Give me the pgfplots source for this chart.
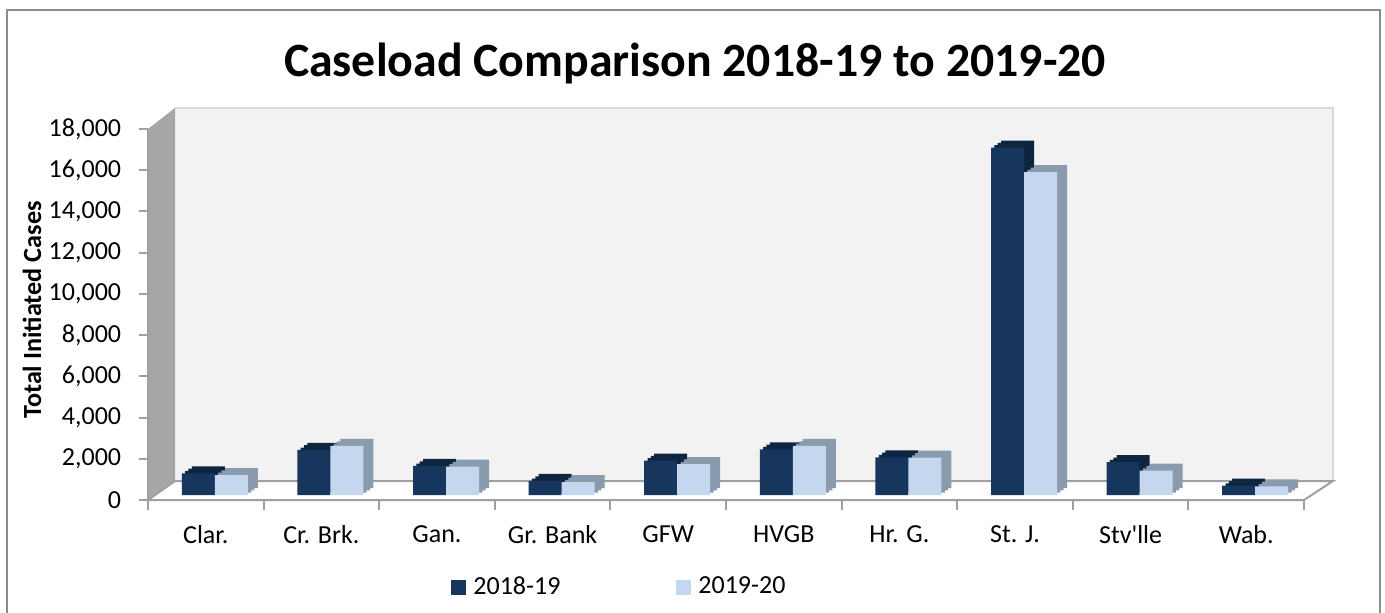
\documentclass[border=0pt]{standalone}
\usepackage{fontspec}
\setmainfont{Carlito}
\usepackage{pgfplots}
\pgfplotsset{compat=1.18}
\usepackage{pgfplotstable}
\definecolor{darkf}{HTML}{17365D}
\definecolor{darks}{HTML}{0F243E}
\definecolor{lightf}{HTML}{C4D7EE}
\definecolor{lights}{HTML}{8A9BAE}
\definecolor{wallc}{HTML}{F2F2F2}
\definecolor{sidewall}{HTML}{A6A6A6}
\definecolor{linec}{HTML}{A0A0A0}
\definecolor{framec}{HTML}{8C8C8C}
\pgfplotstableread{
x a b
0 1050 970
1 2190 2380
2 1410 1380
3 680 620
4 1670 1500
5 2220 2380
6 1830 1810
7 16860 15660
8 1590 1180
9 450 420
}\datatable
\begin{document}
\begin{tikzpicture}
\begin{axis}[
  at={(0,0)}, anchor=south west, scale only axis,
  width=578pt, height=185.5pt,
  xmin=-0.5, xmax=9.5, ymin=0, ymax=18000, clip=false,
  set layers,
  axis y line*=left, axis x line*=bottom,
  axis line style={linec, line width=1pt, -},
  tick align=outside, major tick length=4.75pt,
  tick style={linec, line width=1pt},
  tick label style={font=\fontsize{13}{15}\selectfont},
  scaled y ticks=false,
  ytick={0,2000,...,18000},
  yticklabels={0,{2,000},{4,000},{6,000},{8,000},{10,000},{12,000},{14,000},{16,000},{18,000}},
  yticklabel style={anchor=east, inner sep=0pt, xshift=-8.5pt},
  xtick={-0.5,0.5,...,9.5}, xticklabels={},
  extra x ticks={0,1,...,9},
  extra x tick labels={Clar.,Cr. Brk.,Gan.,Gr. Bank,GFW,HVGB,Hr. G.,St. J.,Stv\textquotesingle lle,Wab.},
  extra x tick style={major tick length=0pt, xticklabel style={font=\fontsize{13}{15}\selectfont, anchor=north, inner sep=0pt, yshift=-12.5pt}},
  ybar, bar width=16.5pt,
  legend image code/.code={\fill[#1, yshift=-2.5pt] (0pt,-3.75pt) rectangle (7.5pt,3.75pt);},
  legend columns=2,
  legend style={at={(0.2621,-0.2345)}, anchor=west, draw=none, fill=none, inner sep=0pt,
    font=\fontsize{13}{15}\selectfont,
    /tikz/every odd column/.append style={column sep=1.5pt},
    /tikz/every even column/.append style={column sep=56pt}},
]
\begin{pgfonlayer}{axis background}
  \fill[wallc] (axis cs:-0.2664,922) rectangle (axis cs:9.751,19020);
  \draw[white!85!black, line width=0.6pt] (axis cs:-0.2664,19020) -- (axis cs:9.751,19020) -- (axis cs:9.751,922);
  \fill[sidewall] (axis cs:-0.5,0) -- (axis cs:-0.5,18000) -- (axis cs:-0.2664,19020) -- (axis cs:-0.2664,922) -- cycle;
  \filldraw[fill=white, draw=linec, line width=1pt] (axis cs:-0.5,0) -- (axis cs:9.5,0) -- (axis cs:9.751,922) -- (axis cs:-0.2664,922) -- cycle;
\end{pgfonlayer}
% 3D depth of the 2018-19 bars
\addplot[fill=darks, draw=none, bar shift=-2.08pt, yshift=3.67pt] table[x=x,y=a]{\datatable};
\addplot[fill=darks, draw=none, bar shift=-0.42pt, yshift=4.83pt] table[x=x,y=a]{\datatable};
\addplot[fill=darks, draw=none, bar shift=1.25pt, yshift=6pt] table[x=x,y=a]{\datatable};
% 2018-19 front faces
\addplot[fill=darkf, draw=none, bar shift=-3.75pt, yshift=2.5pt] table[x=x,y=a]{\datatable};
% 3D depth of the 2019-20 bars
\addplot[fill=lights, draw=none, bar shift=14.42pt, yshift=3.67pt] table[x=x,y=b]{\datatable};
\addplot[fill=lights, draw=none, bar shift=16.08pt, yshift=4.83pt] table[x=x,y=b]{\datatable};
\addplot[fill=lights, draw=none, bar shift=17.75pt, yshift=6pt] table[x=x,y=b]{\datatable};
% 2019-20 front faces
\addplot[fill=lightf, draw=none, bar shift=12.75pt, yshift=2.5pt] table[x=x,y=b]{\datatable};
\legend{,,,2018-19,,,,2019-20}
\end{axis}
\node[font=\bfseries\fontsize{23.9}{28}\selectfont] at (273.5pt,218.5pt) {Caseload Comparison 2018-19 to 2019-20};
\node[rotate=90, font=\bfseries\fontsize{13.1}{15}\selectfont] at (-58pt,95pt) {Total Initiated Cases};
\draw[framec, line width=1pt] (-70.5pt,-70pt) rectangle (616pt,245pt);
\pgfresetboundingbox
\path[use as bounding box] (-74pt,-56pt) rectangle (618.5pt,250pt);
\end{tikzpicture}
\end{document}
